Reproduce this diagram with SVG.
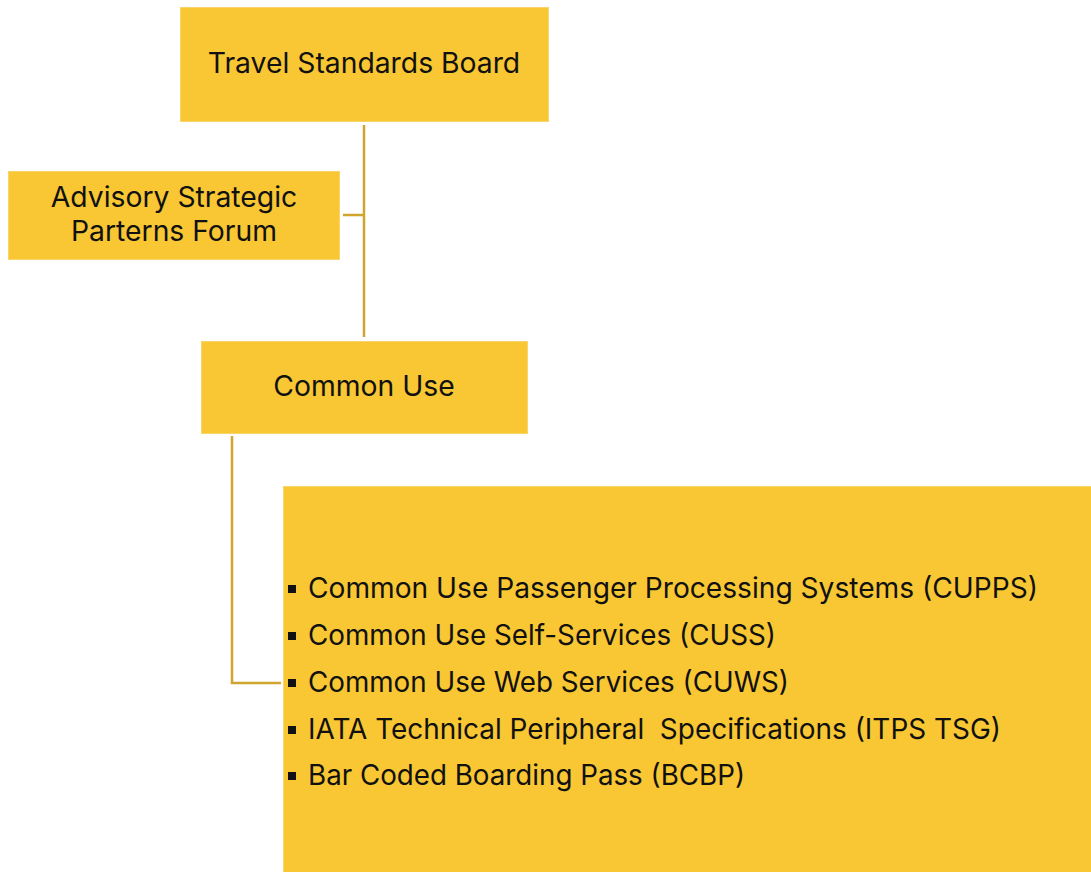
<svg xmlns="http://www.w3.org/2000/svg" width="1091" height="872" viewBox="0 0 1091 872">
  <style>
    .box { fill: #F8C733; stroke: #F9D46A; stroke-width: 1; }
    .lbl { font-family: Inter, "Liberation Sans", Arial, sans-serif; font-size: 28.3px; fill: #111; }
    .mid { text-anchor: middle; }
    .link { fill: none; stroke: #CFA52E; stroke-width: 2.5; }
  </style>
  <rect width="1091" height="872" fill="#FFFFFF"/>

  <g id="connectors">
    <path class="link" d="M364 125 V337 M343 215 H364"/>
    <path class="link" d="M232 436 V683 H281" stroke="#E2B73C"/>
  </g>

  <g id="node-board">
    <rect class="box" x="180.5" y="7.5" width="368" height="114"/>
    <text class="lbl mid" x="364" y="73">Travel Standards Board</text>
  </g>

  <g id="node-advisory">
    <rect class="box" x="8.5" y="171.5" width="331" height="88"/>
    <text class="lbl mid" x="174" y="207">Advisory Strategic</text>
    <text class="lbl mid" x="174" y="241">Parterns Forum</text>
  </g>

  <g id="node-common-use">
    <rect class="box" x="201.5" y="341.5" width="326" height="92"/>
    <text class="lbl mid" x="364" y="396">Common Use</text>
  </g>

  <g id="node-programmes">
    <rect class="box" x="283.5" y="486.5" width="808" height="386"/>
    <g fill="#111">
      <rect x="288" y="585" width="8" height="8"/>
      <rect x="288" y="632" width="8" height="8"/>
      <rect x="288" y="679" width="8" height="8"/>
      <rect x="288" y="726" width="8" height="8"/>
      <rect x="288" y="772" width="8" height="8"/>
    </g>
    <text class="lbl" x="308" y="598" textLength="730" lengthAdjust="spacingAndGlyphs">Common Use Passenger Processing Systems (CUPPS)</text>
    <text class="lbl" x="308" y="645" textLength="468" lengthAdjust="spacingAndGlyphs">Common Use Self-Services (CUSS)</text>
    <text class="lbl" x="308" y="692" textLength="481" lengthAdjust="spacingAndGlyphs">Common Use Web Services (CUWS)</text>
    <text class="lbl" x="308" y="739" xml:space="preserve" textLength="693" lengthAdjust="spacingAndGlyphs">IATA Technical Peripheral  Specifications (ITPS TSG)</text>
    <text class="lbl" x="308" y="785" textLength="437" lengthAdjust="spacingAndGlyphs">Bar Coded Boarding Pass (BCBP)</text>
  </g>
</svg>
